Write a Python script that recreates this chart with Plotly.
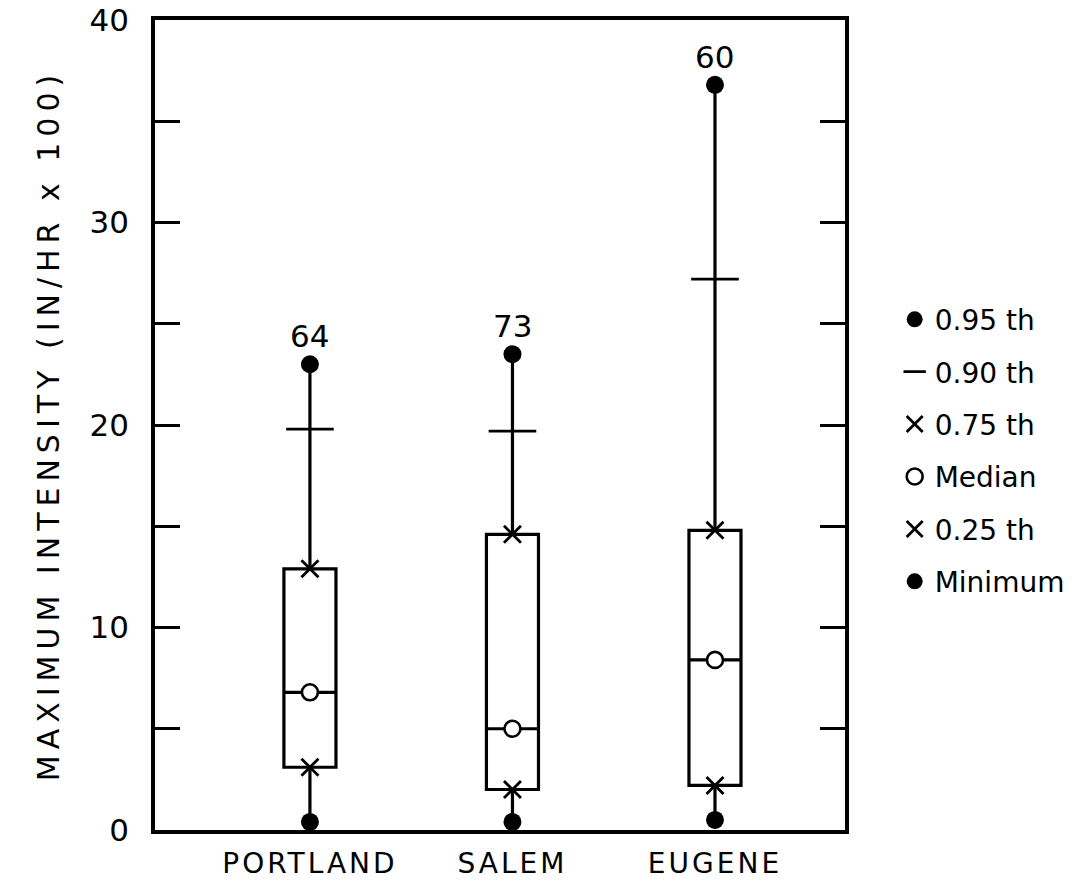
import plotly.graph_objects as go

# Station summaries of maximum rainfall intensity (in/hr x 100)
stations = ["PORTLAND", "SALEM", "EUGENE"]
counts = [64, 73, 60]
p95 = [23.0, 23.5, 36.8]
p90 = [19.8, 19.7, 27.2]
p75 = [12.9, 14.6, 14.8]
median = [6.8, 5.0, 8.4]
p25 = [3.1, 2.0, 2.2]
minimum = [0.4, 0.4, 0.5]

xpos = list(range(len(stations)))
ink = "black"


def spaced(text, px):
    return f'<span style="letter-spacing:{px}px">{text}</span>'


fig = go.Figure()

# box from the 25th to the 75th percentile, whiskers down to the minimum and up to the 95th
fig.add_trace(go.Box(
    x=xpos, q1=p25, median=median, q3=p75,
    lowerfence=minimum, upperfence=p95,
    width=0.257, whiskerwidth=0,
    line=dict(color=ink, width=3.2), fillcolor="white",
    boxpoints=False, showlegend=False, hoverinfo="skip",
))


def marks(name, y, symbol, size, color, lw):
    fig.add_trace(go.Scatter(
        x=xpos, y=y, mode="markers", name=name, legendgroup=name,
        marker=dict(symbol=symbol, size=size, color=color,
                    line=dict(color=ink, width=lw)),
    ))


marks("0.95 th", p95, "circle", 18, ink, 0)
marks("0.90 th", p90, "line-ew", 34, ink, 2.8)
marks("0.75 th", p75, "x-thin", 17, ink, 2.8)
marks("Median", median, "circle", 16, "white", 2.6)
marks("0.25 th", p25, "x-thin", 17, ink, 2.8)
marks("Minimum", minimum, "circle", 18, ink, 0)

# sample sizes above each upper whisker
for x, y, n in zip(xpos, p95, counts):
    fig.add_annotation(x=x, y=y, text=str(n), showarrow=False, yshift=28,
                       font=dict(family="DejaVu Sans", size=31, color=ink))

ytick_vals = list(range(0, 41, 5))
ytick_text = [str(v) if v % 10 == 0 else "" for v in ytick_vals]

fig.update_layout(
    width=1072, height=888,
    margin=dict(l=155, r=227, t=20, b=58, autoexpand=False),
    paper_bgcolor="white", plot_bgcolor="white",
    font=dict(family="DejaVu Sans", color=ink),
    legend=dict(x=1.072, y=0.661, xanchor="left", yanchor="top",
                font=dict(family="DejaVu Sans", size=28, color=ink),
                tracegroupgap=13, itemwidth=30, bgcolor="rgba(0,0,0,0)"),
    xaxis=dict(range=[-0.765, 2.642], tickvals=xpos,
               ticktext=[spaced(s, 3) for s in stations],
               showline=True, linewidth=3.5, linecolor=ink, mirror=True,
               ticks="", showgrid=False, zeroline=False,
               tickfont=dict(family="DejaVu Sans", size=28, color=ink),
               ticklabelstandoff=6),
    yaxis=dict(range=[0, 40], tickvals=ytick_vals, ticktext=ytick_text,
               showline=True, linewidth=3.5, linecolor=ink, mirror="ticks",
               ticks="inside", ticklen=25, tickwidth=3, tickcolor=ink,
               showgrid=False, zeroline=False,
               tickfont=dict(family="DejaVu Sans", size=31, color=ink),
               ticklabelstandoff=16,
               title=dict(text=spaced("MAXIMUM INTENSITY (IN/HR x 100)", 6),
                          standoff=22,
                          font=dict(family="DejaVu Sans", size=30, color=ink))),
)

fig.write_html("out.html")
